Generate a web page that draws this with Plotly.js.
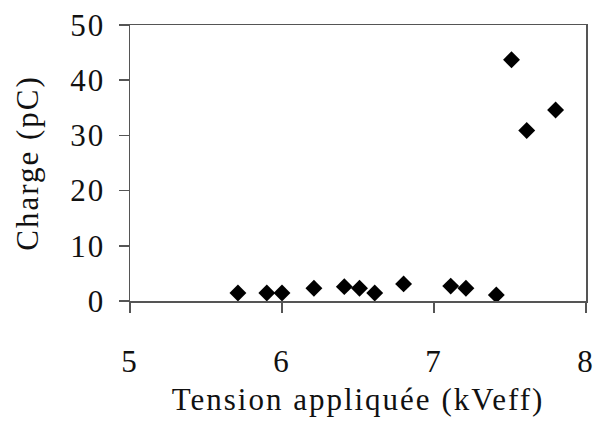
<!DOCTYPE html>
<html><head><meta charset="utf-8">
<script src="https://cdn.plot.ly/plotly-3.0.1.min.js"></script>
<style>body{margin:0;padding:0;background:#fff}#chart{width:596px;height:423px}
#chart text{letter-spacing:2px}</style>
</head><body><div id="chart"></div>
<script>
const tension = [5.71, 5.90, 6.00, 6.21, 6.41, 6.51, 6.61, 6.80, 7.11, 7.21, 7.41, 7.51, 7.61, 7.80];
const charge  = [1.45, 1.45, 1.45, 2.3, 2.6, 2.3, 1.45, 3.1, 2.7, 2.3, 1.1, 43.7, 30.9, 34.6];
const xTicks = [5, 6, 7, 8];
const yTicks = [0, 10, 20, 30, 40, 50];
const xTitle = 'Tension appliquée (kVeff)';
const yTitle = 'Charge (pC)';

const font = {family: '"Liberation Serif", "Times New Roman", serif', size: 31, color: '#111'};
const trace = {
  x: tension, y: charge, type: 'scatter', mode: 'markers',
  marker: {symbol: 'diamond', size: 13, color: '#000'},
  hoverinfo: 'skip'
};
const layout = {
  width: 596, height: 423,
  margin: {l: 130, r: 10, t: 25, b: 122},
  paper_bgcolor: '#fff', plot_bgcolor: '#fff',
  showlegend: false,
  font: font,
  xaxis: {
    range: [5, 8], tickvals: xTicks, ticktext: xTicks.map(String),
    showgrid: false, zeroline: false, showline: true, mirror: true,
    linecolor: '#555', linewidth: 1.5,
    ticks: 'outside', ticklen: 10, tickwidth: 1.5, tickcolor: '#555',
    ticklabelstandoff: 22,
    tickfont: font,
    title: {text: xTitle, font: font, standoff: 10},
    automargin: false
  },
  yaxis: {
    range: [0, 50], tickvals: yTicks, ticktext: yTicks.map(String),
    showgrid: false, zeroline: false, showline: true, mirror: true,
    linecolor: '#555', linewidth: 1.5,
    ticks: 'outside', ticklen: 10, tickwidth: 1.5, tickcolor: '#555',
    ticklabelstandoff: 7,
    tickfont: font,
    title: {text: yTitle, font: font, standoff: 26},
    automargin: false
  }
};
Plotly.newPlot('chart', [trace], layout, {staticPlot: true, displayModeBar: false});
</script></body></html>
